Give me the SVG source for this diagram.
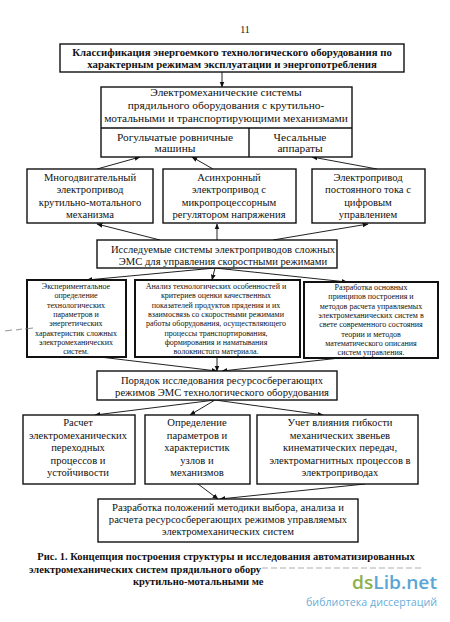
<svg xmlns="http://www.w3.org/2000/svg" width="450" height="622" viewBox="0 0 450 622">
<style>
text{font-family:"Liberation Serif","Times New Roman","DejaVu Serif",serif;fill:#111;text-anchor:middle}
.t{font-size:10.6px}
.t2{font-size:11.4px}
.b{font-size:10.8px;font-weight:bold}
.s{font-size:8px}
.cap{font-size:10.5px;font-weight:bold}
.box{fill:#fff;stroke:#111;stroke-width:1.4}
.thick{fill:#fff;stroke:#111;stroke-width:2}
.c{stroke:#222;stroke-width:1;fill:none;marker-end:url(#ah)}
.wm{font-family:"Open Sans","DejaVu Sans",sans-serif;text-anchor:start}
</style>
<defs>
<marker id="ah" viewBox="0 0 10 10" refX="9" refY="5" markerWidth="6" markerHeight="6" orient="auto" markerUnits="userSpaceOnUse">
<path d="M0,1 L10,5 L0,9 z" fill="#111"/>
</marker>
</defs>
<rect width="450" height="622" fill="#fff"/>
<text x="245" y="33" style="font-size:10px">11</text>

<g id="connectors">
<path class="c" d="M222,72 V87"/>
<path class="c" d="M97,169 L140,157"/>
<path class="c" d="M213,169 L192,157"/>
<path class="c" d="M377,169 L312,157"/>
<path class="c" d="M160,240 L97,224"/>
<path class="c" d="M217,240 V224"/>
<path class="c" d="M273,240 L368,224"/>
<path class="c" d="M215,268 L87,280"/>
<path class="c" d="M215,268 L212,280"/>
<path class="c" d="M215,268 L347,282"/>
<path class="c" d="M100,357 L217,371"/>
<path class="c" d="M217,357 V371"/>
<path class="c" d="M340,358 L222,371"/>
<path class="c" d="M215,400 L95,415"/>
<path class="c" d="M215,400 L190,415"/>
<path class="c" d="M215,400 L323,415"/>
<path class="c" d="M198,484 L218,499"/>
<path class="c" d="M365,484 L220,499"/>
</g>

<g id="n1">
<rect class="box" x="60" y="44" width="344" height="28"/>
<text class="b" x="232" y="56">Классификация энергоемкого технологического оборудования по</text>
<text class="b" x="232" y="68">характерным режимам эксплуатации и энергопотребления</text>
</g>

<g id="n2">
<rect class="box" x="101" y="87" width="251" height="70"/>
<path d="M101,128 H352 M249,128 V157" stroke="#111" stroke-width="1.4" fill="none"/>
<text class="t2" x="226" y="96">Электромеханические системы</text>
<text class="t2" x="226" y="109">прядильного оборудования с крутильно-</text>
<text class="t2" x="226" y="122">мотальными и транспортирующими механизмами</text>
<text class="t2" x="175" y="141">Рогульчатые ровничные</text>
<text class="t2" x="175" y="152">машины</text>
<text class="t2" x="300" y="141">Чесальные</text>
<text class="t2" x="300" y="152">аппараты</text>
</g>

<g id="n3">
<rect class="box" x="27" y="169" width="126" height="54"/>
<text class="t" x="90" y="181">Многодвигательный</text>
<text class="t" x="90" y="193">электропривод</text>
<text class="t" x="90" y="206">крутильно-мотального</text>
<text class="t" x="90" y="218">механизма</text>
</g>
<g id="n4">
<rect class="box" x="163" y="169" width="133" height="54"/>
<text class="t" x="229" y="181">Асинхронный</text>
<text class="t" x="229" y="193">электропривод с</text>
<text class="t" x="229" y="206">микропроцессорным</text>
<text class="t" x="229" y="218">регулятором напряжения</text>
</g>
<g id="n5">
<rect class="box" x="312" y="169" width="113" height="54"/>
<text class="t" x="368" y="181">Электропривод</text>
<text class="t" x="368" y="193">постоянного тока с</text>
<text class="t" x="368" y="206">цифровым</text>
<text class="t" x="368" y="218">управлением</text>
</g>

<g id="n6">
<rect class="box" x="97" y="240" width="240" height="28"/>
<text class="t" x="223" y="253">Исследуемые системы электроприводов сложных</text>
<text class="t" x="223" y="265">ЭМС для управления скоростными режимами</text>
</g>

<g id="n7">
<rect class="thick" x="27" y="280" width="99" height="77"/>
<text class="s" x="76" y="289">Экспериментальное</text>
<text class="s" x="76" y="298.3">определение</text>
<text class="s" x="76" y="307.6">технологических</text>
<text class="s" x="76" y="316.9">параметров и</text>
<text class="s" x="76" y="326.2">энергетических</text>
<text class="s" x="76" y="335.5">характеристик сложных</text>
<text class="s" x="76" y="344.8">электромеханических</text>
<text class="s" x="76" y="354.1">систем.</text>
</g>
<g id="n8">
<rect class="thick" x="135" y="280" width="165" height="77"/>
<text class="s" x="216" y="289">Анализ технологических особенностей и</text>
<text class="s" x="216" y="298.3">критериев оценки качественных</text>
<text class="s" x="216" y="307.6">показателей продуктов прядения и их</text>
<text class="s" x="216" y="316.9">взаимосвязь со скоростными режимами</text>
<text class="s" x="216" y="326.2">работы оборудования, осуществляющего</text>
<text class="s" x="216" y="335.5">процессы транспортирования,</text>
<text class="s" x="216" y="344.8">формирования и наматывания</text>
<text class="s" x="216" y="354.1">волокнистого материала.</text>
</g>
<g id="n9">
<rect class="thick" x="304" y="282" width="134" height="76"/>
<text class="s" x="371" y="290">Разработка основных</text>
<text class="s" x="371" y="299.3">принципов построения и</text>
<text class="s" x="371" y="308.6">методов расчета управляемых</text>
<text class="s" x="371" y="317.9">электромеханических систем в</text>
<text class="s" x="371" y="327.2">свете современного состояния</text>
<text class="s" x="371" y="336.5">теории и методов</text>
<text class="s" x="371" y="345.8">математического описания</text>
<text class="s" x="371" y="355.1">систем управления.</text>
</g>
<path d="M5,331 L12,330 M16,330 L22,329 M25,329 L33,328" stroke="#777" stroke-width="0.8" fill="none"/>

<g id="n10">
<rect class="box" x="97" y="371" width="240" height="29"/>
<text class="t" x="222" y="384">Порядок исследования ресурсосберегающих</text>
<text class="t" x="222" y="396">режимов ЭМС технологического оборудования</text>
</g>

<g id="n11">
<rect class="box" x="23" y="415" width="112" height="69"/>
<text class="t" x="78" y="426">Расчет</text>
<text class="t" x="78" y="438.5">электромеханических</text>
<text class="t" x="78" y="451">переходных</text>
<text class="t" x="78" y="463.5">процессов и</text>
<text class="t" x="78" y="476">устойчивости</text>
</g>
<g id="n12">
<rect class="box" x="145" y="415" width="105" height="69"/>
<text class="t" x="197" y="426">Определение</text>
<text class="t" x="197" y="438.5">параметров и</text>
<text class="t" x="197" y="451">характеристик</text>
<text class="t" x="197" y="463.5">узлов и</text>
<text class="t" x="197" y="476">механизмов</text>
</g>
<g id="n13">
<rect class="box" x="257" y="415" width="161" height="69"/>
<text class="t" x="340" y="426">Учет влияния гибкости</text>
<text class="t" x="340" y="438.5">механических звеньев</text>
<text class="t" x="340" y="451">кинематических передач,</text>
<text class="t" x="340" y="463.5">электромагнитных процессов в</text>
<text class="t" x="340" y="476">электроприводах</text>
</g>

<g id="n14">
<rect class="box" x="98" y="499" width="260" height="43"/>
<text class="t" x="228" y="511">Разработка положений методики выбора, анализа и</text>
<text class="t" x="228" y="523">расчета ресурсосберегающих режимов управляемых</text>
<text class="t" x="228" y="535">электромеханических систем</text>
</g>

<text class="cap" x="226" y="560">Рис. 1. Концепция построения структуры и исследования автоматизированных</text>
<text class="cap" x="29" y="573" style="text-anchor:start">электромеханических систем прядильного обору</text>
<path d="M262,568 H423" stroke="#999" stroke-width="0.8" stroke-dasharray="6 3" fill="none"/>
<text class="cap" x="133" y="585" style="text-anchor:start">крутильно-мотальными ме</text>

<text class="wm" x="352" y="589" textLength="85" lengthAdjust="spacingAndGlyphs" style="font-size:18.5px;font-weight:600"><tspan fill="#8db14b">ds</tspan><tspan fill="#5aa6d6">Lib.net</tspan></text>
<text class="wm" x="306" y="606" textLength="131" lengthAdjust="spacingAndGlyphs" style="font-size:11.5px;fill:#6aaed8">библиотека диссертаций</text>
</svg>
